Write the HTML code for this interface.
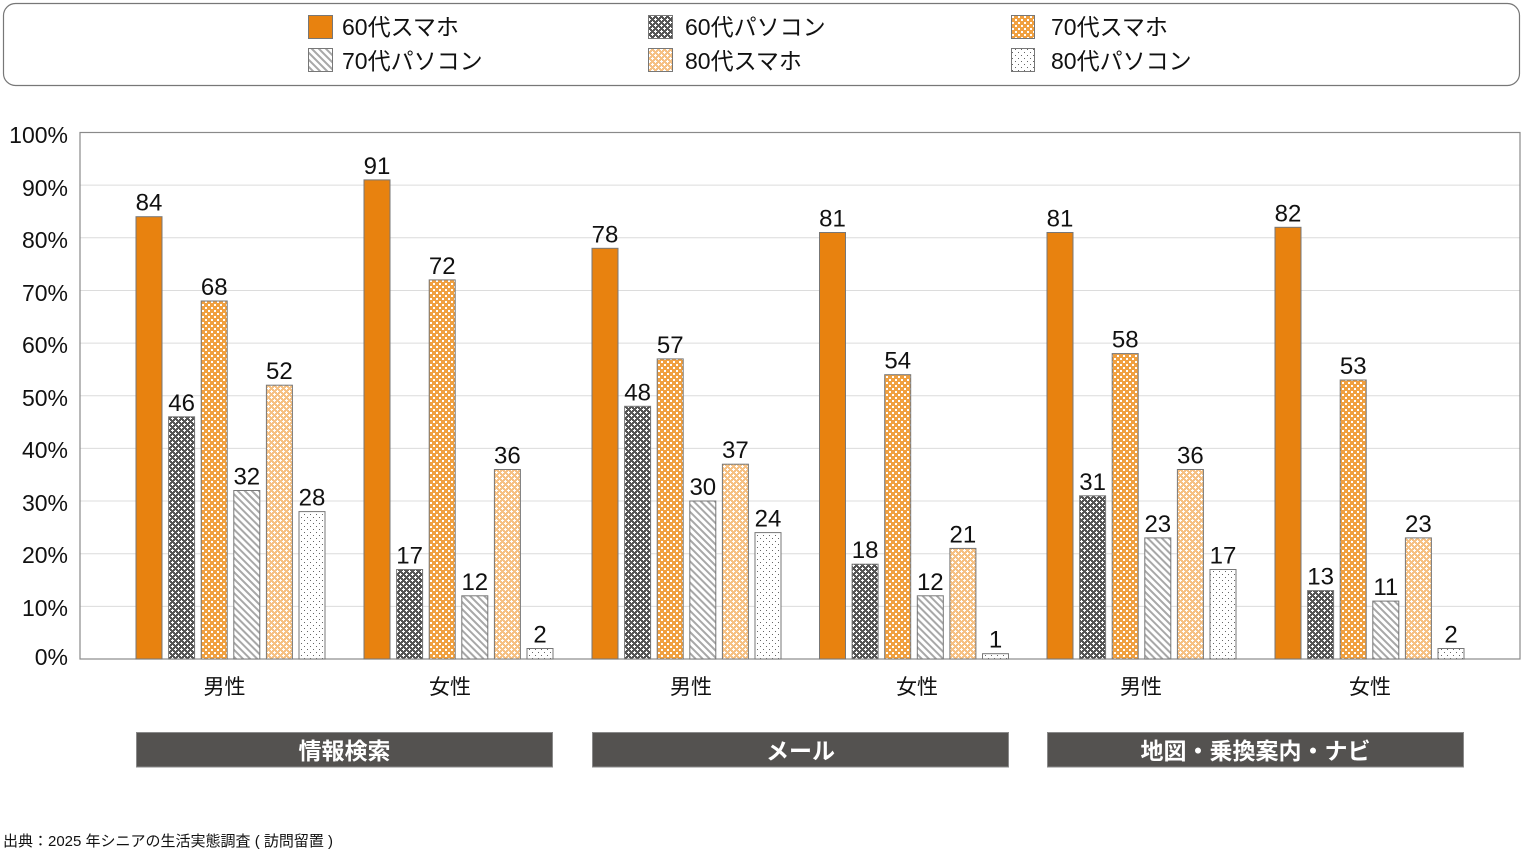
<!DOCTYPE html>
<html><head><meta charset="utf-8"><style>
html,body{margin:0;padding:0;background:#fff;}
svg{display:block;}
text{font-family:"Liberation Sans","Noto Sans CJK JP",sans-serif;}
</style></head><body>
<svg width="1524" height="851" viewBox="0 0 1524 851" xmlns="http://www.w3.org/2000/svg">
<defs>
<pattern id="p60pc" width="6" height="6" patternUnits="userSpaceOnUse">
<rect width="6" height="6" fill="#555"/>
<path d="M1 0h1v1h1v1h-1v1h-1v-1h-1v-1h1z" fill="#fff"/>
<path d="M4 3h1v1h1v1h-1v1h-1v-1h-1v-1h1z" fill="#fff"/>
</pattern>
<pattern id="p70sp" width="6" height="6" patternUnits="userSpaceOnUse">
<rect width="6" height="6" fill="#F0A040"/>
<rect x="1" y="1" width="2" height="2" fill="#fff"/>
<rect x="4" y="4" width="2" height="2" fill="#fff"/>
</pattern>
<pattern id="p70pc" width="5" height="5" patternUnits="userSpaceOnUse" patternTransform="rotate(-45)">
<rect width="5" height="5" fill="#fff"/>
<rect x="0" y="0" width="2" height="5" fill="#a8a8a8"/>
</pattern>
<pattern id="p80sp" width="6" height="6" patternUnits="userSpaceOnUse">
<rect width="6" height="6" fill="#F6C184"/>
<path d="M1 0h1v1h1v1h-1v1h-1v-1h-1v-1h1z" fill="#fff"/>
<path d="M4 3h1v1h1v1h-1v1h-1v-1h-1v-1h1z" fill="#fff"/>
</pattern>
<pattern id="p80pc" width="6" height="6" patternUnits="userSpaceOnUse">
<rect width="6" height="6" fill="#fff"/>
<rect x="1" y="1" width="1" height="1" fill="#666"/>
<rect x="4" y="4" width="1" height="1" fill="#666"/>
</pattern>
</defs>

<!-- Legend -->
<rect x="3.5" y="3.5" width="1516" height="82" rx="12" ry="12" fill="#fff" stroke="#777" stroke-width="1.2"/>
<g stroke="#777" stroke-width="1">
<rect x="308.5" y="15.5" width="24" height="23" fill="#E8820F"/>
<rect x="648.5" y="15.5" width="24" height="23" fill="url(#p60pc)"/>
<rect x="1011.5" y="15.5" width="23" height="23" fill="url(#p70sp)"/>
<rect x="308.5" y="48.5" width="24" height="23" fill="url(#p70pc)"/>
<rect x="648.5" y="48.5" width="24" height="23" fill="url(#p80sp)"/>
<rect x="1011.5" y="48.5" width="23" height="23" fill="url(#p80pc)"/>
</g>
<g font-size="23" fill="#111">
<text x="342" y="35">60代スマホ</text>
<text x="685" y="35">60代パソコン</text>
<text x="1051" y="35">70代スマホ</text>
<text x="342" y="69">70代パソコン</text>
<text x="685" y="69">80代スマホ</text>
<text x="1051" y="69">80代パソコン</text>
</g>

<!-- Grid -->
<g stroke="#dcdcdc" stroke-width="1">
<line x1="80" x2="1520" y1="606.35" y2="606.35"/>
<line x1="80" x2="1520" y1="553.7" y2="553.7"/>
<line x1="80" x2="1520" y1="501.05" y2="501.05"/>
<line x1="80" x2="1520" y1="448.4" y2="448.4"/>
<line x1="80" x2="1520" y1="395.75" y2="395.75"/>
<line x1="80" x2="1520" y1="343.1" y2="343.1"/>
<line x1="80" x2="1520" y1="290.45" y2="290.45"/>
<line x1="80" x2="1520" y1="237.8" y2="237.8"/>
<line x1="80" x2="1520" y1="185.15" y2="185.15"/>
</g>
<rect x="80" y="132.5" width="1440" height="526.5" fill="none" stroke="#8a8a8a" stroke-width="1.2"/>

<!-- Y labels -->
<g font-size="23" fill="#111" text-anchor="end">
<text x="68" y="143">100%</text>
<text x="68" y="196">90%</text>
<text x="68" y="248">80%</text>
<text x="68" y="301">70%</text>
<text x="68" y="353">60%</text>
<text x="68" y="406">50%</text>
<text x="68" y="458">40%</text>
<text x="68" y="511">30%</text>
<text x="68" y="563">20%</text>
<text x="68" y="616">10%</text>
<text x="68" y="665">0%</text>
</g>

<!-- Bars -->
<g stroke="#777" stroke-width="1">
<!-- Group 1 -->
<rect x="136" y="216.7" width="26" height="442.3" fill="#E8820F"/>
<rect x="168.6" y="416.8" width="26" height="242.2" fill="url(#p60pc)"/>
<rect x="201.2" y="301.0" width="26" height="358.0" fill="url(#p70sp)"/>
<rect x="233.8" y="490.5" width="26" height="168.5" fill="url(#p70pc)"/>
<rect x="266.4" y="385.2" width="26" height="273.8" fill="url(#p80sp)"/>
<rect x="299" y="511.6" width="26" height="147.4" fill="url(#p80pc)"/>
<!-- Group 2 -->
<rect x="364" y="179.9" width="26" height="479.1" fill="#E8820F"/>
<rect x="396.6" y="569.5" width="26" height="89.5" fill="url(#p60pc)"/>
<rect x="429.2" y="279.9" width="26" height="379.1" fill="url(#p70sp)"/>
<rect x="461.8" y="595.8" width="26" height="63.2" fill="url(#p70pc)"/>
<rect x="494.4" y="469.5" width="26" height="189.5" fill="url(#p80sp)"/>
<rect x="527" y="648.5" width="26" height="10.5" fill="url(#p80pc)"/>
<!-- Group 3 -->
<rect x="592" y="248.3" width="26" height="410.7" fill="#E8820F"/>
<rect x="624.6" y="406.3" width="26" height="252.7" fill="url(#p60pc)"/>
<rect x="657.2" y="358.9" width="26" height="300.1" fill="url(#p70sp)"/>
<rect x="689.8" y="501.0" width="26" height="158.0" fill="url(#p70pc)"/>
<rect x="722.4" y="464.2" width="26" height="194.8" fill="url(#p80sp)"/>
<rect x="755" y="532.6" width="26" height="126.4" fill="url(#p80pc)"/>
<!-- Group 4 -->
<rect x="819.5" y="232.5" width="26" height="426.5" fill="#E8820F"/>
<rect x="852.1" y="564.2" width="26" height="94.8" fill="url(#p60pc)"/>
<rect x="884.7" y="374.7" width="26" height="284.3" fill="url(#p70sp)"/>
<rect x="917.3" y="595.8" width="26" height="63.2" fill="url(#p70pc)"/>
<rect x="949.9" y="548.4" width="26" height="110.6" fill="url(#p80sp)"/>
<rect x="982.5" y="653.7" width="26" height="5.3" fill="url(#p80pc)"/>
<!-- Group 5 -->
<rect x="1047" y="232.5" width="26" height="426.5" fill="#E8820F"/>
<rect x="1079.6" y="495.8" width="26" height="163.2" fill="url(#p60pc)"/>
<rect x="1112.2" y="353.6" width="26" height="305.4" fill="url(#p70sp)"/>
<rect x="1144.8" y="537.9" width="26" height="121.1" fill="url(#p70pc)"/>
<rect x="1177.4" y="469.5" width="26" height="189.5" fill="url(#p80sp)"/>
<rect x="1210" y="569.5" width="26" height="89.5" fill="url(#p80pc)"/>
<!-- Group 6 -->
<rect x="1275" y="227.3" width="26" height="431.7" fill="#E8820F"/>
<rect x="1307.6" y="590.6" width="26" height="68.4" fill="url(#p60pc)"/>
<rect x="1340.2" y="380.0" width="26" height="279.0" fill="url(#p70sp)"/>
<rect x="1372.8" y="601.1" width="26" height="57.9" fill="url(#p70pc)"/>
<rect x="1405.4" y="537.9" width="26" height="121.1" fill="url(#p80sp)"/>
<rect x="1438" y="648.5" width="26" height="10.5" fill="url(#p80pc)"/>
</g>

<!-- Data labels -->
<g font-size="24" fill="#111" text-anchor="middle">
<text x="149" y="210.7">84</text>
<text x="181.6" y="410.8">46</text>
<text x="214.2" y="295.0">68</text>
<text x="246.8" y="484.5">32</text>
<text x="279.4" y="379.2">52</text>
<text x="312" y="505.6">28</text>

<text x="377" y="173.9">91</text>
<text x="409.6" y="563.5">17</text>
<text x="442.2" y="273.9">72</text>
<text x="474.8" y="589.8">12</text>
<text x="507.4" y="463.5">36</text>
<text x="540" y="642.5">2</text>

<text x="605" y="242.3">78</text>
<text x="637.6" y="400.3">48</text>
<text x="670.2" y="352.9">57</text>
<text x="702.8" y="495.0">30</text>
<text x="735.4" y="458.2">37</text>
<text x="768" y="526.6">24</text>

<text x="832.5" y="226.5">81</text>
<text x="865.1" y="558.2">18</text>
<text x="897.7" y="368.7">54</text>
<text x="930.3" y="589.8">12</text>
<text x="962.9" y="542.4">21</text>
<text x="995.5" y="647.7">1</text>

<text x="1060" y="226.5">81</text>
<text x="1092.6" y="489.8">31</text>
<text x="1125.2" y="347.6">58</text>
<text x="1157.8" y="531.9">23</text>
<text x="1190.4" y="463.5">36</text>
<text x="1223" y="563.5">17</text>

<text x="1288" y="221.3">82</text>
<text x="1320.6" y="584.6">13</text>
<text x="1353.2" y="374.0">53</text>
<text x="1385.8" y="595.1">11</text>
<text x="1418.4" y="531.9">23</text>
<text x="1451" y="642.5">2</text>
</g>

<!-- Category labels -->
<g font-size="21" fill="#111" text-anchor="middle">
<text x="224.5" y="694">男性</text>
<text x="450" y="694">女性</text>
<text x="691" y="694">男性</text>
<text x="917" y="694">女性</text>
<text x="1141" y="694">男性</text>
<text x="1370" y="694">女性</text>
</g>

<!-- Group boxes -->
<g fill="#545250" stroke="#8a8a8a" stroke-width="1">
<rect x="136.5" y="732.5" width="416" height="34.5"/>
<rect x="592.5" y="732.5" width="416" height="34.5"/>
<rect x="1047.5" y="732.5" width="416" height="34.5"/>
</g>
<g font-size="23" fill="#fff" text-anchor="middle" font-weight="bold">
<text x="344.5" y="759">情報検索</text>
<text x="800.5" y="759">メール</text>
<text x="1255.5" y="759">地図・乗換案内・ナビ</text>
</g>

<!-- Source -->
<text x="3" y="846" font-size="15" fill="#111">出典：2025 年シニアの生活実態調査 ( 訪問留置 )</text>
</svg>
</body></html>
